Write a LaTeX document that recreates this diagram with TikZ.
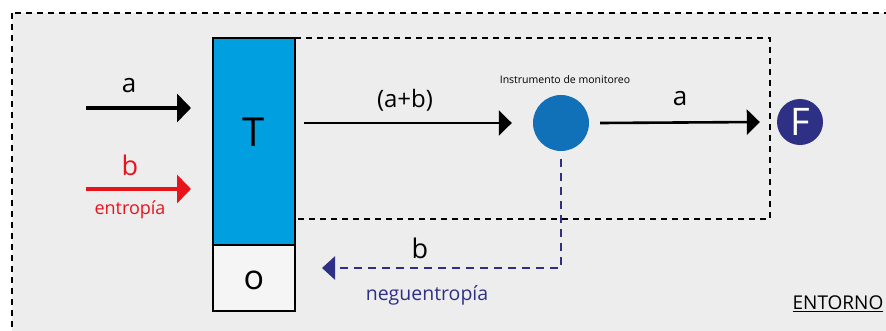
\documentclass[tikz,border=0pt]{standalone}
\usepackage{fontspec}
\setmainfont{Open Sans}
\usepackage{xcolor}
\usetikzlibrary{calc,positioning,arrows.meta}

\definecolor{fondo}{HTML}{EDEDED}
\definecolor{celeste}{HTML}{009FE0}
\definecolor{azulmon}{HTML}{1071B8}
\definecolor{marino}{HTML}{2E3086}
\definecolor{rojo}{HTML}{E8141B}
\definecolor{gris}{HTML}{F5F5F5}

\tikzset{
  caja/.style={draw=black,line width=1.8pt,minimum width=82pt,inner sep=0pt,outer sep=0pt},
  flecha/.style={line width=#1,-{Triangle[length=13pt,width=25pt]}},
  raya/.style={line width=1.6pt,dash pattern=on 6pt off 5pt},
}

\begin{document}
\begin{tikzpicture}[x=1pt,y=-1pt]
    \clip (0,0) rectangle (886,330);
    \fill[white] (0,0) rectangle (886,330);
    \draw[raya,fill=fondo] (12,13) rectangle (900,345);

    % sistema T / o
    \node[
      caja,
      fill=celeste,
      minimum height=207pt
    ] (cajaT) at (254,141.5) {};
    \node[
      caja,
      fill=gris,
      minimum height=66pt,
      below=0pt of cajaT
    ] (cajaO) {};
    \node[font=\fontsize{40}{40}\selectfont] (letraT) at ([yshift=9pt]cajaT.center) {T};
    \node[font=\fontsize{34}{34}\selectfont] (letraO) at ([yshift=-2pt]cajaO.center) {o};

    % instrumento y fuente
    \node[
      circle,
      fill=azulmon,
      minimum size=56pt,
      inner sep=0pt
    ] (monitor) at (561,123) {};
    \node[font=\fontsize{10.5}{12}\selectfont] (etqMon) at (565,80) {Instrumento de monitoreo};
    \node[
      circle,
      fill=marino,
      text=white,
      minimum size=46pt,
      inner sep=0pt,
      font=\fontsize{38}{38}\selectfont
    ] (fuente) at (800,122) {F};

    % recuadro punteado
    \draw[raya] (cajaT.north east) -- (770,38) -- (770,219) -- (cajaT.east |- 0,219);

    % entradas
    \coordinate (aIni) at (86,108);
    \coordinate (aFin) at (191,108);
    \coordinate (bIni) at (86,189);
    \coordinate (bFin) at (191,189);
    \draw[flecha=4pt,-{Triangle[length=14pt,width=28pt]}] (aIni) -- (aFin);
    \draw[flecha=4pt,rojo,-{Triangle[length=14pt,width=28pt]}] (bIni) -- (bFin);
    \node[font=\fontsize{26}{26}\selectfont] (etqA) at (129,86) {a};
    \node[font=\fontsize{27}{27}\selectfont,text=rojo] (etqB) at (130,165) {b};
    \node[font=\fontsize{18}{18}\selectfont,text=rojo] (etqEnt) at (130,210) {entropía};

    % salidas
    \draw[flecha=2.6pt] ([xshift=9pt]cajaT.east |- monitor) -- ([xshift=-21pt]monitor.west);
    \draw[flecha=2.6pt] ([xshift=11pt]monitor.east) -- ([xshift=-17pt]fuente.west);
    \node[font=\fontsize{24}{24}\selectfont] (etqAB) at (405,100) {(a+b)};
    \node[font=\fontsize{26}{26}\selectfont] (etqA2) at (680,99) {a};

    % realimentacion
    \coordinate (negFin) at (322,268);
    \draw[
      marino,
      line width=2.8pt,
      dash pattern=on 8pt off 6pt,
      -{Triangle[length=13pt,width=23pt]}
    ] ([yshift=-8pt]monitor.south) -- (monitor.south |- 0,268) -- (negFin);
    \node[font=\fontsize{27}{27}\selectfont] (etqB2) at (420,248) {b};
    \node[font=\fontsize{19.5}{20}\selectfont,text=marino] (etqNeg) at (427,295) {neguentropía};

    \node[font=\fontsize{19}{20}\selectfont] (entorno) at (838,304) {\underline{ENTORNO}};
  \end{tikzpicture}
\end{document}
